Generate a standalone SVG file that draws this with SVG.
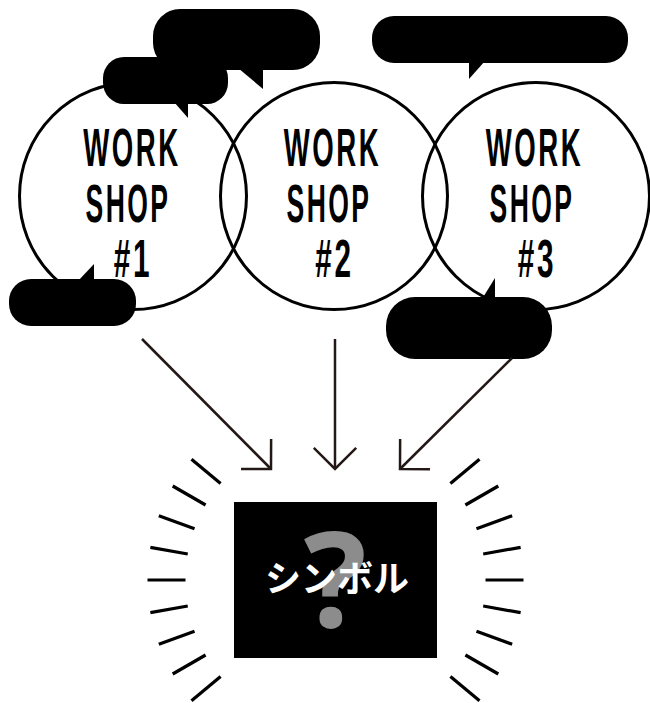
<svg xmlns="http://www.w3.org/2000/svg" width="650" height="703" viewBox="0 0 650 703">
<style>
.ring{fill:none;stroke:#000;stroke-width:3}
.ws{font-family:"Liberation Sans","DejaVu Sans",sans-serif;font-weight:bold;font-size:53px;fill:#000;text-anchor:middle;letter-spacing:5px}
.bub{fill:#000}
.conn{fill:none;stroke:#231815;stroke-width:2.5}
.ray{stroke:#000;stroke-width:3.2;fill:none}
.qm{font-family:"Noto Sans","DejaVu Sans",sans-serif;font-weight:bold;font-size:132px;fill:#8c8c8c}
.sym{font-family:"Noto Sans CJK JP","Noto Sans CJK SC",sans-serif;font-weight:bold;font-size:36px;fill:#fff}
</style>
<defs>
<marker id="ah" markerUnits="userSpaceOnUse" viewBox="-25 -25 30 50" markerWidth="30" markerHeight="50" refX="0" refY="0" orient="auto" overflow="visible">
<path d="M-21.2,-21.2 L0,0 L-21.2,21.2" fill="none" stroke="#231815" stroke-width="2.5"/>
</marker>
</defs>
<rect width="650" height="703" fill="#fff"/>

<g id="ws1">
<circle class="ring" cx="133" cy="196" r="113.5"/>
<text class="ws" transform="translate(132,166) scale(0.52,1)">WORK</text>
<text class="ws" transform="translate(128,222) scale(0.5,1)">SHOP</text>
<text class="ws" transform="translate(133,277) scale(0.56,1)">#1</text>
</g>
<g id="ws2">
<circle class="ring" cx="334" cy="196" r="113.5"/>
<text class="ws" transform="translate(332.5,166) scale(0.52,1)">WORK</text>
<text class="ws" transform="translate(329,222) scale(0.5,1)">SHOP</text>
<text class="ws" transform="translate(334.5,277) scale(0.56,1)">#2</text>
</g>
<g id="ws3">
<circle class="ring" cx="536" cy="196" r="113.5"/>
<text class="ws" transform="translate(534.5,166) scale(0.52,1)">WORK</text>
<text class="ws" transform="translate(532,222) scale(0.5,1)">SHOP</text>
<text class="ws" transform="translate(537,277) scale(0.56,1)">#3</text>
</g>

<g id="bubbles">
<g id="bubble-a">
<rect class="bub" x="153" y="9" width="167" height="61" rx="27"/>
<polygon class="bub" points="238,68 263,68 263,89"/>
</g>
<g id="bubble-b">
<rect class="bub" x="103" y="57" width="125" height="47" rx="21"/>
<polygon class="bub" points="174,102 188,102 188,118"/>
</g>
<g id="bubble-c">
<rect class="bub" x="372" y="16" width="256" height="47" rx="22"/>
<polygon class="bub" points="469,61 485,61 469,79"/>
</g>
<g id="bubble-d">
<rect class="bub" x="9" y="279" width="127" height="47" rx="22"/>
<polygon class="bub" points="78,281 94,264 94,281"/>
</g>
<g id="bubble-e">
<rect class="bub" x="386" y="297" width="166" height="62" rx="29"/>
<polygon class="bub" points="482,299 495,278 495,299"/>
</g>
</g>

<g id="connectors">
<line class="conn" x1="142" y1="339" x2="271" y2="469" marker-end="url(#ah)"/>
<line class="conn" x1="335" y1="339" x2="335" y2="469" marker-end="url(#ah)"/>
<line class="conn" x1="512" y1="358" x2="400" y2="469" marker-end="url(#ah)"/>
</g>

<g id="symbol">
<rect x="234" y="502" width="203" height="156" fill="#000"/>
<text class="qm" x="335" y="627" text-anchor="middle">?</text>
<text class="sym" x="337" y="592" text-anchor="middle">シンボル</text>
</g>

<g id="rays" transform="translate(335.5,580)">
<line class="ray" x1="-188" y1="0" x2="-150" y2="0" transform="rotate(40)"/>
<line class="ray" x1="-188" y1="0" x2="-150" y2="0" transform="rotate(30)"/>
<line class="ray" x1="-188" y1="0" x2="-150" y2="0" transform="rotate(20)"/>
<line class="ray" x1="-188" y1="0" x2="-150" y2="0" transform="rotate(10)"/>
<line class="ray" x1="-188" y1="0" x2="-150" y2="0"/>
<line class="ray" x1="-188" y1="0" x2="-150" y2="0" transform="rotate(-10)"/>
<line class="ray" x1="-188" y1="0" x2="-150" y2="0" transform="rotate(-20)"/>
<line class="ray" x1="-188" y1="0" x2="-150" y2="0" transform="rotate(-30)"/>
<line class="ray" x1="-188" y1="0" x2="-150" y2="0" transform="rotate(-40)"/>
<line class="ray" x1="150" y1="0" x2="188" y2="0" transform="rotate(40)"/>
<line class="ray" x1="150" y1="0" x2="188" y2="0" transform="rotate(30)"/>
<line class="ray" x1="150" y1="0" x2="188" y2="0" transform="rotate(20)"/>
<line class="ray" x1="150" y1="0" x2="188" y2="0" transform="rotate(10)"/>
<line class="ray" x1="150" y1="0" x2="188" y2="0"/>
<line class="ray" x1="150" y1="0" x2="188" y2="0" transform="rotate(-10)"/>
<line class="ray" x1="150" y1="0" x2="188" y2="0" transform="rotate(-20)"/>
<line class="ray" x1="150" y1="0" x2="188" y2="0" transform="rotate(-30)"/>
<line class="ray" x1="150" y1="0" x2="188" y2="0" transform="rotate(-40)"/>
</g>
</svg>
